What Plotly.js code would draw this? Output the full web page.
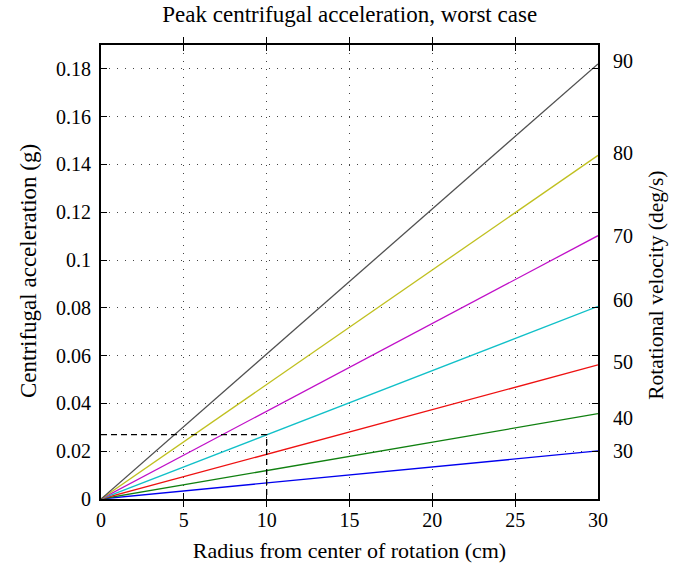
<!DOCTYPE html>
<html>
<head>
<meta charset="utf-8">
<script src="https://cdn.plot.ly/plotly-3.0.1.min.js"></script>
<style>html,body{margin:0;padding:0;background:#fff;}#chart{width:679px;height:574px;}</style>
</head>
<body>
<div id="chart"></div>
<script>
// Data
var radius = [0, 30];
var speedLabels = ["30", "40", "50", "60", "70", "80", "90"];
var endAccel = [0.0201, 0.0357, 0.0561, 0.0806, 0.1102, 0.1438, 0.1821];
var lineColors = ["#0000ee", "#108010", "#ee1111", "#11c0c8", "#c010c8", "#c0c020", "#505050"];
var labelPos = [0.0199, 0.0341, 0.0575, 0.0831, 0.1102, 0.1449, 0.1832];
var dashX = [0, 10, 10];
var dashY = [0.0269, 0.0269, 0];
var xTicks = [0, 5, 10, 15, 20, 25, 30];
var yTicks = [0, 0.02, 0.04, 0.06, 0.08, 0.1, 0.12, 0.14, 0.16, 0.18];
var yTickText = ["0", "0.02", "0.04", "0.06", "0.08", "0.1", "0.12", "0.14", "0.16", "0.18"];

var traces = [];
for (var i = 0; i < endAccel.length; i++) {
  traces.push({
    x: radius, y: [0, endAccel[i]], mode: "lines", type: "scatter",
    line: {color: lineColors[i], width: 1.3}, hoverinfo: "skip", showlegend: false
  });
}
traces.push({
  x: dashX, y: dashY, mode: "lines", type: "scatter",
  line: {color: "#000", width: 1.3, dash: "6px,4px"}, showlegend: false
});
// invisible trace for right axis
traces.push({x: [0], y: [0], yaxis: "y2", mode: "markers", marker: {opacity: 0}, showlegend: false, hoverinfo: "skip"});

var fam = "Liberation Serif, Times New Roman, serif";
function f(s) { return {family: fam, size: s, color: "#000"}; }

var layout = {
  width: 679, height: 574,
  margin: {l: 101, r: 81, t: 45, b: 75},
  paper_bgcolor: "#fff", plot_bgcolor: "#fff",
  font: f(20),
  showlegend: false,
  title: {text: "Peak centrifugal acceleration, worst case", x: 0.515, xanchor: "center", y: 0.99, yanchor: "top", font: f(23)},
  xaxis: {
    range: [0, 30], tickvals: xTicks, ticktext: xTicks.map(String),
    ticks: "inside", ticklen: 6, tickwidth: 1, tickcolor: "#000",
    showline: true, linecolor: "#000", linewidth: 2, mirror: "allticks",
    showgrid: true, gridcolor: "#444", gridwidth: 1, griddash: "1px,7px",
    zeroline: false, tickfont: f(20), ticklabelstandoff: 2,
    title: {text: "Radius from center of rotation (cm)", font: f(22), standoff: 13}
  },
  yaxis: {
    range: [0, 0.19], tickvals: yTicks, ticktext: yTickText,
    ticks: "inside", ticklen: 6, tickwidth: 1, tickcolor: "#000",
    showline: true, linecolor: "#000", linewidth: 2, mirror: "allticks",
    showgrid: true, gridcolor: "#444", gridwidth: 1, griddash: "1px,7px",
    zeroline: false, tickfont: f(20), ticklabelstandoff: 4
  },
  yaxis2: {
    overlaying: "y", side: "right", range: [0, 0.19],
    tickvals: labelPos, ticktext: speedLabels,
    ticks: "", showline: false, showgrid: false, zeroline: false,
    tickfont: f(20), ticklabelstandoff: 14
  },
  annotations: [
    {text: "Centrifugal acceleration (g)", textangle: -90, xref: "paper", yref: "paper",
     x: -0.147, y: 0.502, xanchor: "center", yanchor: "middle", showarrow: false, font: f(23)},
    {text: "Rotational velocity (deg/s)", textangle: -90, xref: "paper", yref: "paper",
     x: 1.115, y: 0.47, xanchor: "center", yanchor: "middle", showarrow: false, font: f(21.5)}
  ]
};

Plotly.newPlot("chart", traces, layout, {displayModeBar: false, staticPlot: true});
</script>
</body>
</html>
